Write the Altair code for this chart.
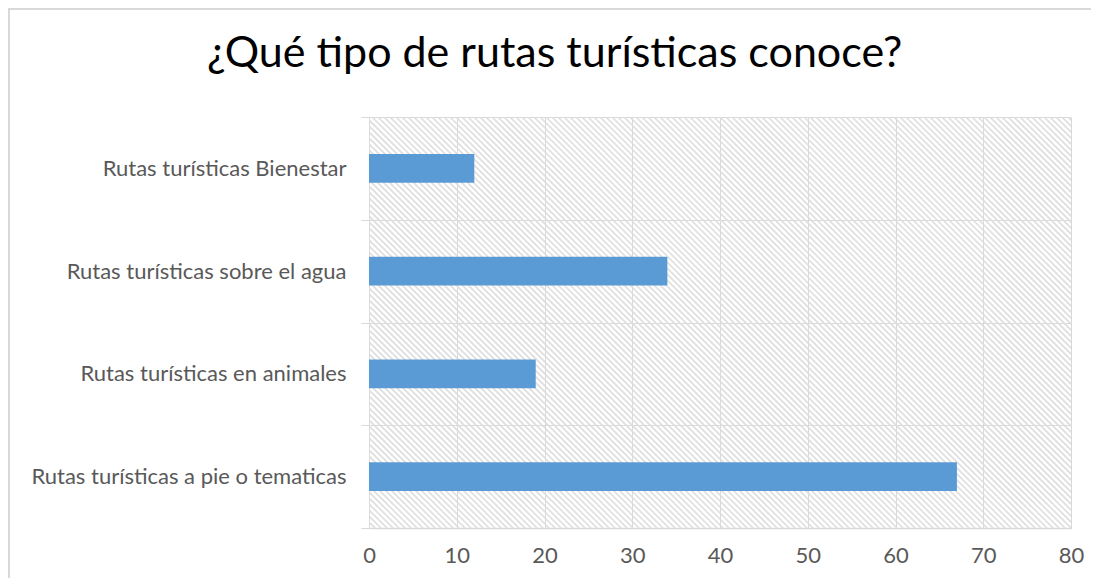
import altair as alt
import pandas as pd

categories = [
    "Rutas turísticas Bienestar",
    "Rutas turísticas sobre el agua",
    "Rutas turísticas en animales",
    "Rutas turísticas a pie o tematicas",
]
values = [12, 34, 19, 67]
x_ticks = [0, 10, 20, 30, 40, 50, 60, 70, 80]
title_text = "¿Qué tipo de rutas turísticas conoce?"

W, H = 702, 411
FONT = "Lato"
GRID = "#d9d9d9"
LABEL = "#595959"

df = pd.DataFrame({"cat": categories, "val": values})

# decorative hatch background (diagonal lines), on its own pixel scales
hatch = (
    alt.Chart(alt.sequence(start=-H, stop=W + 6, step=6, as_="k"))
    .transform_calculate(x1=f"datum.k + {H}", y0=f"{H}", y1="0")
    .mark_rule(clip=True, color="#dedede", strokeWidth=1.6)
    .encode(
        x=alt.X("k:Q", scale=alt.Scale(domain=[0, W], nice=False, zero=False), axis=None),
        x2="x1:Q",
        y=alt.Y("y0:Q", scale=alt.Scale(domain=[0, H], nice=False), axis=None),
        y2="y1:Q",
    )
)

bars = (
    alt.Chart(df)
    .mark_bar(color="#5b9bd5", height=alt.RelativeBandSize(0.28))
    .encode(
        x=alt.X(
            "val:Q",
            scale=alt.Scale(domain=[0, 80], nice=False),
            axis=alt.Axis(
                values=x_ticks,
                title=None,
                grid=True,
                gridColor=GRID,
                gridWidth=1,
                ticks=False,
                domain=True,
                domainColor=GRID,
                domainWidth=1.5,
                labelFont=FONT,
                labelFontSize=22,
                labelColor=LABEL,
                labelPadding=17,
                labelFlush=False,
            ),
        ),
        y=alt.Y(
            "cat:N",
            sort=categories,
            scale=alt.Scale(paddingInner=0, paddingOuter=0),
            axis=alt.Axis(
                title=None,
                tickBand="extent",
                grid=True,
                gridColor=GRID,
                gridWidth=1,
                ticks=True,
                tickSize=8,
                tickColor=GRID,
                domain=True,
                domainColor=GRID,
                labelFont=FONT,
                labelFontSize=22,
                labelColor=LABEL,
                labelPadding=15,
                labelLimit=400,
            ),
        ),
    )
)

frame = (
    alt.Chart(pd.DataFrame({"a": [0]}))
    .mark_rect(filled=False, stroke=GRID, strokeWidth=2, clip=False)
    .encode(
        x=alt.value(-360),
        x2=alt.value(W + 200),
        y=alt.value(-108),
        y2=alt.value(H + 200),
    )
)

chart = (
    alt.layer(frame, hatch, bars)
    .resolve_scale(x="independent", y="independent")
    .properties(
        width=W,
        height=H,
        autosize=alt.AutoSizeParams(type="none"),
        padding={"left": 361, "top": 109, "right": 20, "bottom": 50},
        title=alt.TitleParams(
            title_text,
            anchor="start",
            frame="group",
            dx=-162,
            dy=102,
            offset=0,
            baseline="alphabetic",
            font=FONT,
            fontSize=43,
            fontWeight="normal",
            color="#000000",
        ),
    )
    .configure_view(stroke=None)
)

chart.save("out.html", embed_options={"renderer": "svg", "actions": False})
